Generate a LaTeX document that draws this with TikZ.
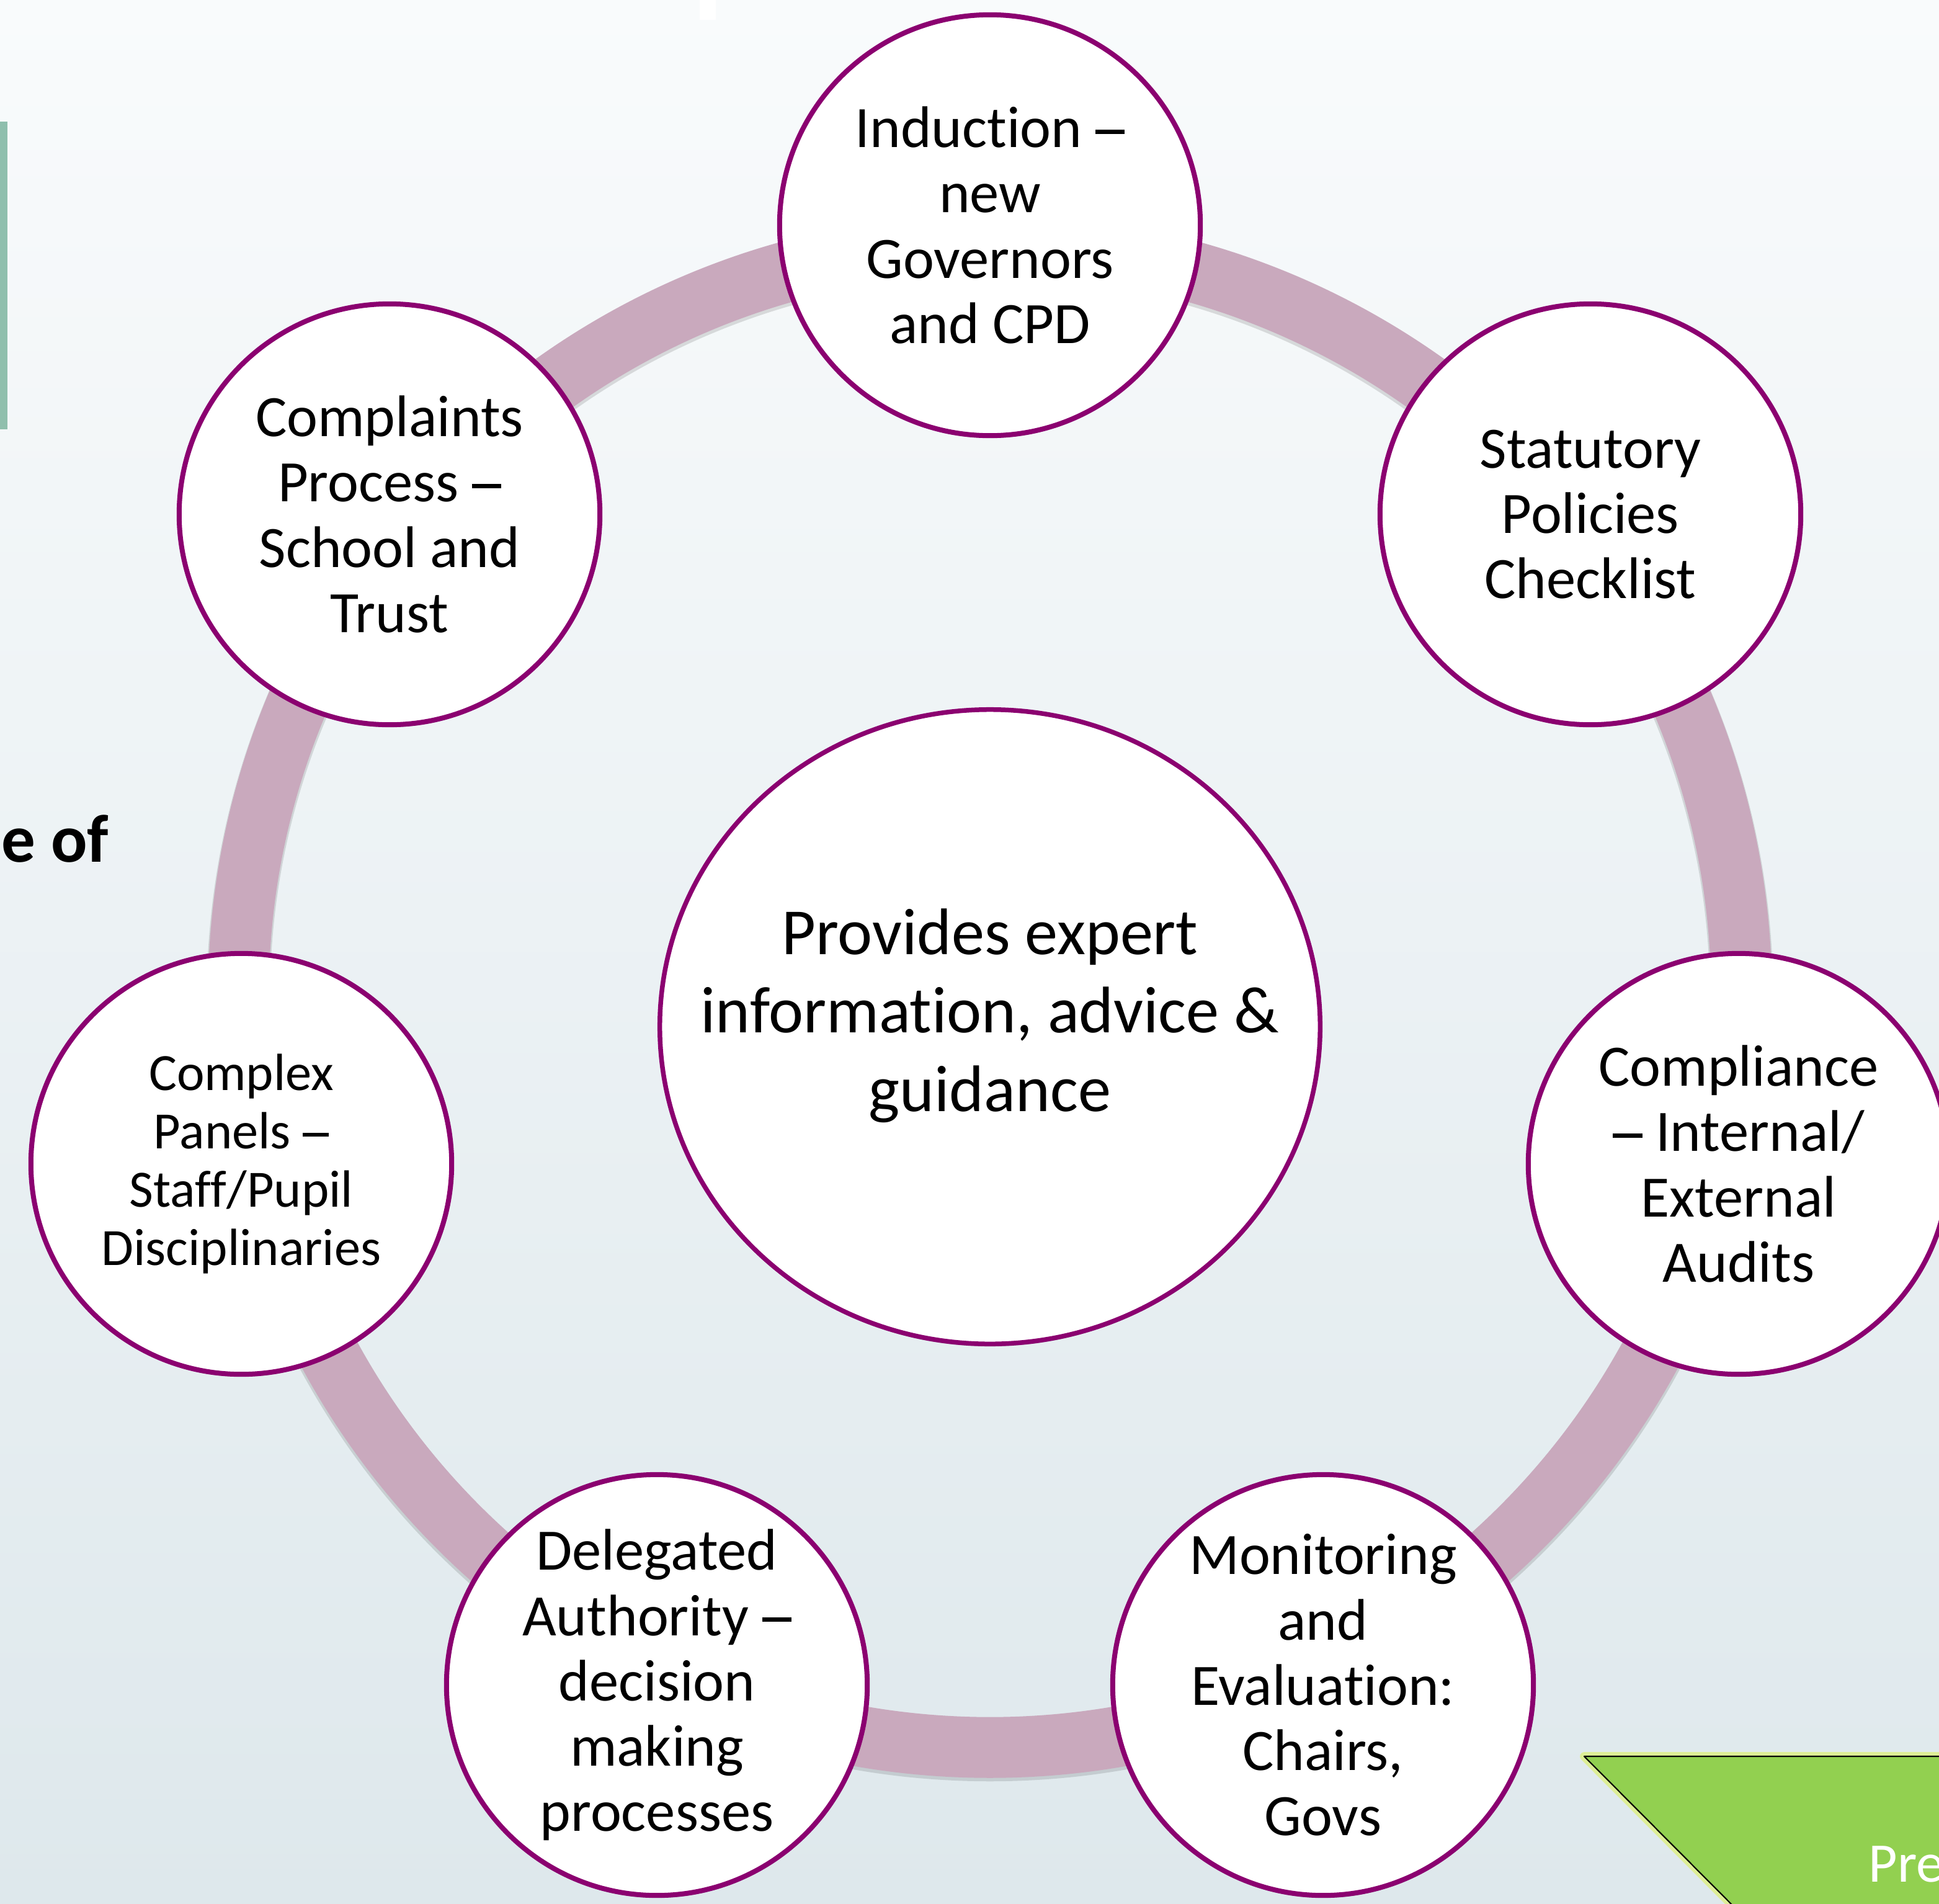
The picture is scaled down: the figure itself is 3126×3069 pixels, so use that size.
\documentclass[tikz,border=0pt]{standalone}
\usepackage{fontspec}
\setmainfont[Ligatures={NoCommon}]{Carlito}
\usetikzlibrary{shapes.geometric,shadows}
\newcommand{\longdash}{\rule[0.235em]{0.5em}{0.07em}}
\begin{document}
\begin{tikzpicture}[x=0.01cm,y=-0.01cm]
\definecolor{bgtop}{RGB}{249,251,252}
\definecolor{bgbot}{RGB}{222,232,236}
\definecolor{ringc}{RGB}{201,169,189}
\definecolor{plum}{RGB}{139,0,112}
\definecolor{barg}{RGB}{143,191,173}
\definecolor{limeg}{RGB}{146,208,80}
\definecolor{glowc}{RGB}{222,240,130}
\tikzset{
  bub/.style={circle, draw=plum, line width=0.08cm, fill=white,
    minimum size=6.78cm, inner sep=0pt, align=center,
    drop shadow={shadow xshift=0pt, shadow yshift=-1.1pt, opacity=0.25, fill=black},
    font=\fontsize{26.9}{29.9}\selectfont},
  bubsmall/.style={bub, font=\fontsize{24}{26.7}\selectfont},
  hub/.style={ellipse, draw=plum, line width=0.075cm, fill=white,
    minimum width=10.64cm, minimum height=10.22cm, inner sep=0pt, align=center,
    drop shadow={shadow xshift=0pt, shadow yshift=-1.1pt, opacity=0.25, fill=black}},
  ringband/.style={draw=ringc, line width=0.98cm},
}
\useasboundingbox (0,0) rectangle (3126,3069);
\begin{scope}
\clip (0,0) rectangle (3126,3069);
\shade[top color=bgtop, bottom color=bgbot] (0,0) rectangle (3126,3069);
% left bar and top white mark
\fill[barg] (0,196) rectangle (12,692);
\fill[white] (1128,0) rectangle (1154,32);
% ring
\coordinate (rc) at (1596,1605);
\draw[black, opacity=0.12, line width=1.02cm] ([yshift=-0.035cm]rc) circle[radius=12.11cm];
\draw[ringband] (rc) circle[radius=12.11cm];
% nodes
\node[bub] (ind) at (1596,363) {Induction \longdash\\new\\Governors\\and CPD};
\node[bub] (stat) at (2564,829) {Statutory\\Policies\\Checklist};
\node[bub] (comp) at (2803,1876) {Compliance\\\longdash{} Internal/\\External\\Audits};
\node[bub] (mon) at (2133,2716) {Monitoring\\and\\Evaluation:\\Chairs,\\Govs};
\node[bub] (del) at (1059,2716) {Delegated\\Authority \longdash\\decision\\making\\processes};
\node[bubsmall] (cx) at (389,1876) {Complex\\Panels \longdash\\Staff/Pupil\\Disciplinaries};
\node[bub] (cpl) at (628,829) {Complaints\\Process \longdash\\School and\\Trust};
\node[hub] (hubn) at (1596,1655) {};
\node[align=center, inner sep=0pt, font=\fontsize{30.2}{35.9}\selectfont] (hubt) at (1596,1637)
  {Provides expert\\information, advice \&\\guidance};
% side text
\node[anchor=base west, inner sep=0pt, font=\bfseries\fontsize{31}{36}\selectfont] (eof) at (2,1389) {e of};
% green shape
\draw[glowc, line width=0.14cm, opacity=0.8, line join=round] (2554,2831) -- (3300,2831) -- (3300,3300) -- (3021,3300) -- cycle;
\fill[limeg] (2554,2831) -- (3300,2831) -- (3300,3300) -- (3021,3300) -- cycle;
\draw[black, line width=0.6pt, line join=round] (3300,2831) -- (2554,2831) -- (3021,3300);
\node[anchor=base west, inner sep=0pt, text=white, font=\fontsize{25.6}{30}\selectfont] (pre) at (3012,3033) {Pre};
\end{scope}
\end{tikzpicture}
\end{document}
